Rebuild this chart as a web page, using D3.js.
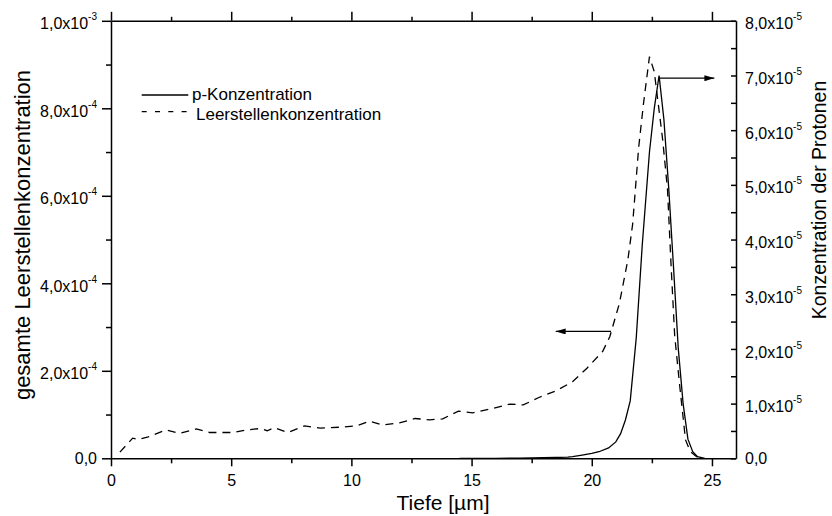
<!DOCTYPE html>
<html>
<head>
<meta charset="utf-8">
<script src="https://cdn.jsdelivr.net/npm/d3@7"></script>
<style>
  body { margin: 0; background: #fff; }
  svg { display: block; }
  text { font-family: Arial, "Liberation Sans", sans-serif; fill: #000; }
</style>
</head>
<body>
<svg id="chart" width="832" height="516"></svg>
<script>
// Vacancy concentration (left axis, units of 1e-4) against depth in µm
const depthVac = [0.37, 0.9, 1.15, 1.55, 2.3, 2.85, 3.55, 4.1, 5.1, 5.65, 6.2, 6.5, 6.8, 7.35,
  8.05, 8.7, 9.5, 10.2, 10.75, 11.3, 12.0, 12.65, 13.25, 13.8, 14.45, 15.05, 15.9, 16.6, 17.15,
  17.8, 18.5, 19.2, 19.8, 20.45, 20.75, 21.15, 21.5, 21.7, 21.95, 22.15, 22.4, 22.6, 22.95,
  23.15, 23.3, 23.45, 23.65, 23.9, 24.1, 24.35, 24.5];
const vacancy = [0.14, 0.46, 0.43, 0.49, 0.65, 0.57, 0.67, 0.59, 0.59, 0.65, 0.68, 0.63, 0.70, 0.59,
  0.74, 0.69, 0.71, 0.74, 0.85, 0.76, 0.81, 0.91, 0.88, 0.90, 1.08, 1.04, 1.14, 1.24, 1.22,
  1.39, 1.54, 1.75, 2.06, 2.44, 2.78, 3.54, 4.53, 5.35, 7.1, 8.1, 9.18, 8.84, 7.28,
  6.15, 4.4, 2.8, 1.7, 0.42, 0.15, 0.04, 0.0];

// Proton concentration (right axis, units of 1e-5) against depth in µm
const depthProt = [14.5, 15, 16, 17, 18, 19, 19.2, 19.6, 20.0, 20.3, 20.7, 21.0, 21.2, 21.4, 21.6,
  21.85, 22.1, 22.4, 22.6, 22.8, 23.0, 23.2, 23.4, 23.6, 23.8, 24.0, 24.2, 24.4, 24.7];
const protons = [0, 0, 0, 0.005, 0.01, 0.02, 0.03, 0.06, 0.09, 0.12, 0.19, 0.3, 0.45, 0.7, 1.05,
  2.2, 3.9, 5.6, 6.4, 7.0, 6.2, 4.95, 3.5, 2.0, 1.0, 0.35, 0.12, 0.03, 0];

const xTicks = [0, 5, 10, 15, 20, 25];
const xMinorTicks = [2.5, 7.5, 12.5, 17.5, 22.5];
const xTickLabels = ["0", "5", "10", "15", "20", "25"];

const leftTicks = [0, 2, 4, 6, 8, 10];
const leftMinorTicks = [1, 3, 5, 7, 9];
const leftTickLabels = ["0,0", "2,0x10", "4,0x10", "6,0x10", "8,0x10", "1,0x10"];
const leftTickExps = ["", "-4", "-4", "-4", "-4", "-3"];

const rightTicks = [0, 1, 2, 3, 4, 5, 6, 7, 8];
const rightMinorTicks = [0.5, 1.5, 2.5, 3.5, 4.5, 5.5, 6.5, 7.5];
const rightTickLabels = ["0,0", "1,0x10", "2,0x10", "3,0x10", "4,0x10", "5,0x10", "6,0x10", "7,0x10", "8,0x10"];
const rightTickExps = ["", "-5", "-5", "-5", "-5", "-5", "-5", "-5", "-5"];

const seriesNames = ["p-Konzentration", "Leerstellenkonzentration"];
const xTitle = "Tiefe [µm]";
const leftTitle = "gesamte Leerstellenkonzentration";
const rightTitle = "Konzentration der Protonen";

const svg = d3.select("#chart");
const box = { left: 111, right: 736, top: 20.8, bottom: 458.3 };

const x = d3.scaleLinear().domain([0, 26]).range([box.left, box.right]);
const yL = d3.scaleLinear().domain([0, 10]).range([box.bottom, box.top]);
const yR = d3.scaleLinear().domain([0, 8]).range([box.bottom, box.top]);

const AXIS_W = 1.5;

function styleAxis(g) {
  g.attr("font-family", null).attr("font-size", null);
  g.selectAll("path, line").attr("stroke", "#000").attr("stroke-width", AXIS_W);
  g.selectAll("text").attr("font-size", 16);
}

function addExponents(g, exps) {
  g.selectAll(".tick text").each(function (d, i) {
    const t = d3.select(this);
    const base = t.text();
    t.text(null);
    t.append("tspan").text(base);
    if (exps[i]) {
      t.attr("y", 3);
      t.append("tspan").attr("dy", -9).attr("font-size", 10).text(exps[i]);
    }
  });
}

// minor ticks first, so major ticks and frame sit on top
svg.append("g").attr("transform", `translate(0,${box.bottom})`)
  .call(d3.axisBottom(x).tickValues(xMinorTicks).tickSize(5).tickFormat(""))
  .call(styleAxis).call(g => g.select(".domain").remove());
svg.append("g").attr("transform", `translate(0,${box.top})`)
  .call(d3.axisTop(x).tickValues(xMinorTicks).tickSize(4).tickFormat(""))
  .call(styleAxis).call(g => g.select(".domain").remove());
svg.append("g").attr("transform", `translate(${box.left},0)`)
  .call(d3.axisLeft(yL).tickValues(leftMinorTicks).tickSize(5).tickFormat(""))
  .call(styleAxis).call(g => g.select(".domain").remove());
svg.append("g").attr("transform", `translate(${box.right},0)`)
  .call(d3.axisRight(yR).tickValues(rightMinorTicks).tickSize(-5).tickFormat(""))
  .call(styleAxis).call(g => g.select(".domain").remove());

// major axes
svg.append("g").attr("transform", `translate(0,${box.bottom})`)
  .call(d3.axisBottom(x).tickValues(xTicks).tickSizeInner(8).tickSizeOuter(0).tickPadding(8.5)
    .tickFormat((d, i) => xTickLabels[i]))
  .call(styleAxis);
svg.append("g").attr("transform", `translate(0,${box.top})`)
  .call(d3.axisTop(x).tickValues(xTicks).tickSizeInner(9).tickSizeOuter(0).tickFormat(""))
  .call(styleAxis);
svg.append("g").attr("transform", `translate(${box.left},0)`)
  .call(d3.axisLeft(yL).tickValues(leftTicks).tickSizeInner(9).tickSizeOuter(0).tickPadding(5)
    .tickFormat((d, i) => leftTickLabels[i]))
  .call(styleAxis).call(g => addExponents(g, leftTickExps));
svg.append("g").attr("transform", `translate(${box.right},0)`)
  .call(d3.axisRight(yR).tickValues(rightTicks).tickSizeInner(-5).tickSizeOuter(0).tickPadding(9)
    .tickFormat((d, i) => rightTickLabels[i]))
  .call(styleAxis).call(g => addExponents(g, rightTickExps));

// curves
const vacLine = d3.line().x(d => x(d[0])).y(d => yL(d[1]));
const protLine = d3.line().x(d => x(d[0])).y(d => yR(d[1]));

svg.append("path")
  .datum(d3.zip(depthVac, vacancy))
  .attr("d", vacLine)
  .attr("fill", "none").attr("stroke", "#000").attr("stroke-width", 1.3)
  .attr("stroke-dasharray", "8,6");

svg.append("path")
  .datum(d3.zip(depthProt, protons))
  .attr("d", protLine)
  .attr("fill", "none").attr("stroke", "#000").attr("stroke-width", 1.3);

// arrows pointing to the axis each curve belongs to
const defs = svg.append("defs");
defs.append("marker").attr("id", "head")
  .attr("viewBox", "0 0 10 6").attr("refX", 10).attr("refY", 3)
  .attr("markerWidth", 10).attr("markerHeight", 6).attr("markerUnits", "userSpaceOnUse")
  .attr("orient", "auto")
  .append("path").attr("d", "M0,0 L10,3 L0,6 Z").attr("fill", "#000");

svg.append("line")
  .attr("x1", x(20.8)).attr("x2", x(18.5)).attr("y1", yL(2.9)).attr("y2", yL(2.9))
  .attr("stroke", "#000").attr("stroke-width", 1.3).attr("marker-end", "url(#head)");
svg.append("line")
  .attr("x1", x(22.8)).attr("x2", x(25.1)).attr("y1", yR(6.95)).attr("y2", yR(6.95))
  .attr("stroke", "#000").attr("stroke-width", 1.3).attr("marker-end", "url(#head)");

// legend
const legend = svg.append("g");
legend.append("line").attr("x1", 141.7).attr("x2", 188.3).attr("y1", 95).attr("y2", 95)
  .attr("stroke", "#000").attr("stroke-width", 1.3);
legend.append("text").attr("x", 192).attr("y", 100).attr("font-size", 17).text(seriesNames[0]);
legend.append("line").attr("x1", 141.7).attr("x2", 194.3).attr("y1", 111.7).attr("y2", 111.7)
  .attr("stroke", "#000").attr("stroke-width", 1.3).attr("stroke-dasharray", "5,8.3");
legend.append("text").attr("x", 196).attr("y", 119.5).attr("font-size", 17).text(seriesNames[1]);

// axis titles
svg.append("text").attr("x", 443).attr("y", 510).attr("text-anchor", "middle")
  .attr("font-size", 21).text(xTitle);
svg.append("text").attr("transform", "translate(30,235) rotate(-90)")
  .attr("text-anchor", "middle").attr("font-size", 22).text(leftTitle);
svg.append("text").attr("transform", "translate(826,200) rotate(-90)")
  .attr("text-anchor", "middle").attr("font-size", 19.5).text(rightTitle);
</script>
</body>
</html>
